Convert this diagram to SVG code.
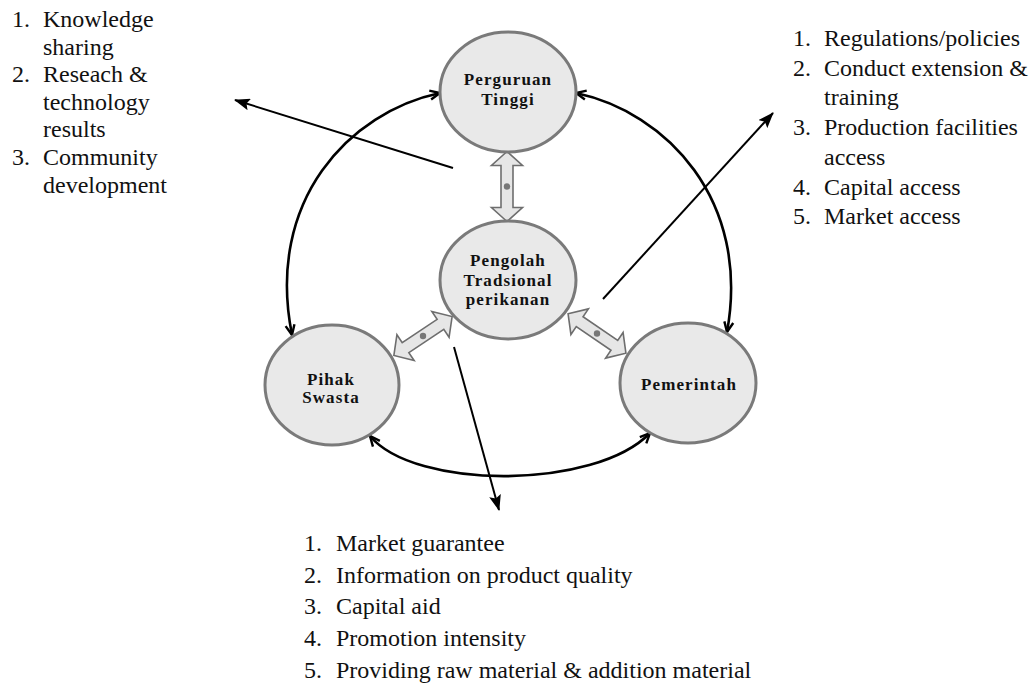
<svg xmlns="http://www.w3.org/2000/svg" width="1035" height="684" viewBox="0 0 1035 684">
<style>
.list{font-family:"Liberation Serif","Times New Roman",serif;font-size:24px;fill:#111}
.node{fill:#e9e9e9;stroke:#7a7a7a;stroke-width:3}
.lbl{font-family:"Liberation Serif","Times New Roman",serif;font-size:17px;font-weight:bold;fill:#111;text-anchor:middle;letter-spacing:1.1px}
.arc{fill:none;stroke:#000;stroke-width:2.6;marker-start:url(#open);marker-end:url(#open)}
.ray{fill:none;stroke:#000;stroke-width:2;marker-end:url(#solid)}
.blk{fill:#e6e6e6;stroke:#6e6e6e;stroke-width:1.6}
.dot{fill:#777}
</style>
<defs>
<marker id="open" viewBox="0 0 12 12" refX="11" refY="6" markerWidth="12" markerHeight="12" markerUnits="userSpaceOnUse" orient="auto-start-reverse">
<path d="M1,1.5 L11,6 L1,10.5" fill="none" stroke="#000" stroke-width="2.4"/>
</marker>
<marker id="solid" viewBox="0 0 16 12" refX="15" refY="6" markerWidth="16" markerHeight="12" markerUnits="userSpaceOnUse" orient="auto">
<path d="M0,0 L16,6 L0,12 L3,6 Z" fill="#000"/>
</marker>
<path id="blockArrow" d="M-35,0 L-21,-15.5 L-21,-6 L21,-6 L21,-15.5 L35,0 L21,15.5 L21,6 L-21,6 L-21,15.5 Z"/>
</defs>
<rect width="1035" height="684" fill="#fff"/>

<g id="connectors">
<path class="arc" d="M292,335 C265,200 350,112 440,93"/>
<path class="arc" d="M576,93 C666,112 751,200 727,332"/>
<path class="arc" d="M370,436 C415,490 595,490 650,433"/>
<line class="ray" x1="453" y1="168" x2="235" y2="100"/>
<line class="ray" x1="603" y1="299" x2="773" y2="113"/>
<line class="ray" x1="454" y1="347" x2="499" y2="510"/>
<use href="#blockArrow" class="blk" transform="translate(507,186.5) rotate(90)"/>
<use href="#blockArrow" class="blk" transform="translate(423,336) rotate(-33.7)"/>
<use href="#blockArrow" class="blk" transform="translate(597,333.5) rotate(34.3)"/>
<circle class="dot" cx="507" cy="186.5" r="3.2"/>
<circle class="dot" cx="423" cy="336" r="3.2"/>
<circle class="dot" cx="597" cy="333.5" r="3.2"/>
</g>

<g id="node-perguruan">
<ellipse class="node" cx="508" cy="92" rx="68" ry="60"/>
<text class="lbl" x="508" y="85">Perguruan</text>
<text class="lbl" x="508" y="105">Tinggi</text>
</g>
<g id="node-pengolah">
<ellipse class="node" cx="508" cy="280" rx="68" ry="59"/>
<text class="lbl" x="508" y="266">Pengolah</text>
<text class="lbl" x="508" y="286">Tradsional</text>
<text class="lbl" x="508" y="305">perikanan</text>
</g>
<g id="node-pihak">
<ellipse class="node" cx="332" cy="385" rx="67" ry="60"/>
<text class="lbl" x="331" y="385">Pihak</text>
<text class="lbl" x="331" y="403">Swasta</text>
</g>
<g id="node-pemerintah">
<ellipse class="node" cx="688" cy="383" rx="68" ry="60"/>
<text class="lbl" x="689" y="390">Pemerintah</text>
</g>

<g id="list-university">
<text class="list" x="12" y="27">1.</text><text class="list" x="43" y="27">Knowledge</text>
<text class="list" x="43" y="54.6">sharing</text>
<text class="list" x="12" y="82.2">2.</text><text class="list" x="43" y="82.2">Reseach &amp;</text>
<text class="list" x="43" y="109.8">technology</text>
<text class="list" x="43" y="137.4">results</text>
<text class="list" x="12" y="165">3.</text><text class="list" x="43" y="165">Community</text>
<text class="list" x="43" y="192.6">development</text>
</g>
<g id="list-government">
<text class="list" x="793" y="46">1.</text><text class="list" x="824" y="46">Regulations/policies</text>
<text class="list" x="793" y="75.7">2.</text><text class="list" x="824" y="75.7">Conduct extension &amp;</text>
<text class="list" x="824" y="105.4">training</text>
<text class="list" x="793" y="135">3.</text><text class="list" x="824" y="135">Production facilities</text>
<text class="list" x="824" y="164.8">access</text>
<text class="list" x="793" y="194.5">4.</text><text class="list" x="824" y="194.5">Capital access</text>
<text class="list" x="793" y="224.2">5.</text><text class="list" x="824" y="224.2">Market access</text>
</g>
<g id="list-private">
<text class="list" x="304" y="551">1.</text><text class="list" x="336" y="551">Market guarantee</text>
<text class="list" x="304" y="582.7">2.</text><text class="list" x="336" y="582.7">Information on product quality</text>
<text class="list" x="304" y="614.4">3.</text><text class="list" x="336" y="614.4">Capital aid</text>
<text class="list" x="304" y="646.1">4.</text><text class="list" x="336" y="646.1">Promotion intensity</text>
<text class="list" x="304" y="677.8">5.</text><text class="list" x="336" y="677.8">Providing raw material &amp; addition material</text>
</g>
</svg>
